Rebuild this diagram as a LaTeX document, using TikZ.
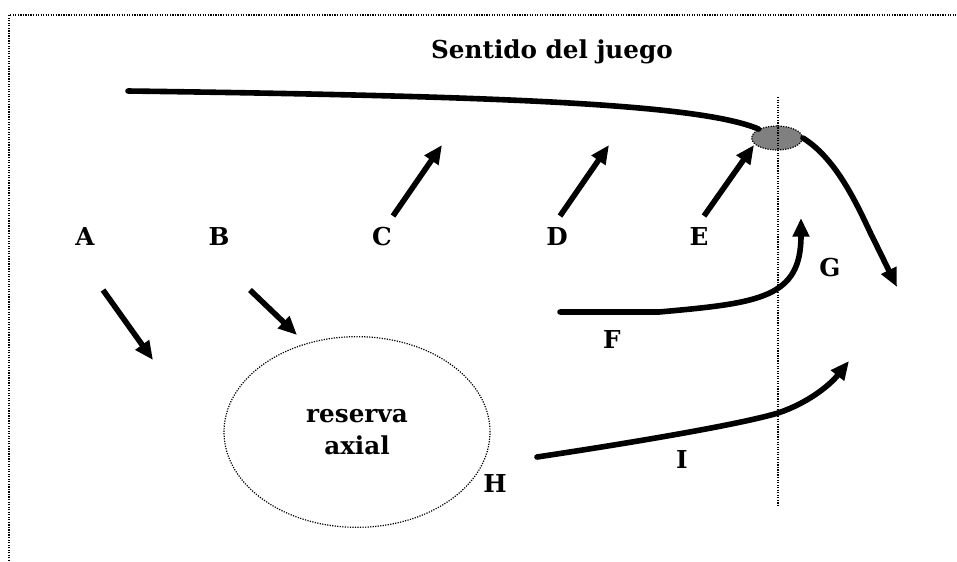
\documentclass[tikz,border=0pt]{standalone}
\usepackage{fontspec}
\setmainfont{DejaVu Serif}
\usetikzlibrary{arrows.meta,shapes.geometric}
\begin{document}
\begin{tikzpicture}[x=0.75pt,y=-0.75pt,
  lbl/.style={font=\bfseries\fontsize{18.5}{22}\selectfont, inner sep=0pt},
  thick line/.style={line width=4.2pt, line cap=round},
  arr/.style={line width=4.2pt, -{Triangle[length=14pt,width=12pt]}},
  frame/.style={line width=0.9pt, densely dotted}]
\useasboundingbox (0,0) rectangle (957,561);
% frame
\coordinate (fl) at (9,561);
\coordinate (fc) at (9,15);
\coordinate (fr) at (957,15);
\draw[frame] (fl) -- (fc) -- (fr);
% title
\node[lbl] (title) at (552,52) {Sentido del juego};
% ball and vertical line
\node[ellipse, draw, densely dotted, line width=0.9pt, fill=black!50, minimum width=38pt, minimum height=18pt, inner sep=0pt] (ball) at (777,138) {};
\coordinate (vt) at (778,97);
\coordinate (vb) at (778,505);
\draw[frame] (vt) -- (vb);
% long top line
\coordinate (ls) at (128,91);
\draw[thick line] (ls) .. controls (500,96) and (700,104) .. (ball.north west);
% labels
\node[lbl] (A) at (85,237) {A};
\node[lbl] (B) at (219,237) {B};
\node[lbl] (C) at (382,237) {C};
\node[lbl] (D) at (557,237) {D};
\node[lbl] (E) at (699,237) {E};
\node[lbl] (G) at (830,268) {G};
\node[lbl] (F) at (612,340) {F};
\node[lbl] (I) at (682,460) {I};
\node[lbl] (H) at (495,484) {H};
% reserve ellipse
\node[ellipse, draw, densely dotted, line width=0.9pt, minimum width=199.5pt, minimum height=143pt, inner sep=0pt,
  align=center, font=\bfseries\fontsize{18.5}{23.5}\selectfont] (res) at (357,432) {reserva\\axial};
% short arrows
\coordinate (c1) at (393,216); \coordinate (c2) at (442,145);
\coordinate (d1) at (560,216); \coordinate (d2) at (609,145);
\coordinate (e1) at (704,216); \coordinate (e2) at (754,145);
\coordinate (a1) at (103,290); \coordinate (a2) at (153,360);
\coordinate (b1) at (250,290); \coordinate (b2) at (297,335);
\draw[arr] (c1) -- (c2);
\draw[arr] (d1) -- (d2);
\draw[arr] (e1) -- (e2);
\draw[arr] (a1) -- (a2);
\draw[arr] (b1) -- (b2);
% G run
\coordinate (g1) at (870,232);
\coordinate (g2) at (897,287);
\draw[arr, line cap=round] (ball.east) .. controls (835,158) and (855,200) .. (g1) -- (g2);
% F run
\coordinate (f0) at (560,312);
\coordinate (f1) at (659,312);
\coordinate (f2) at (801,218);
\draw[arr, line cap=round] (f0) -- (f1) .. controls (760,303) and (801,298) .. (f2);
% I run
\coordinate (i0) at (537,457);
\coordinate (i1) at (778,413);
\coordinate (i2) at (849,361);
\draw[arr, line cap=round] (i0) .. controls (650,440) and (745,423) .. (i1) .. controls (808,403) and (830,385) .. (i2);
\end{tikzpicture}
\end{document}
